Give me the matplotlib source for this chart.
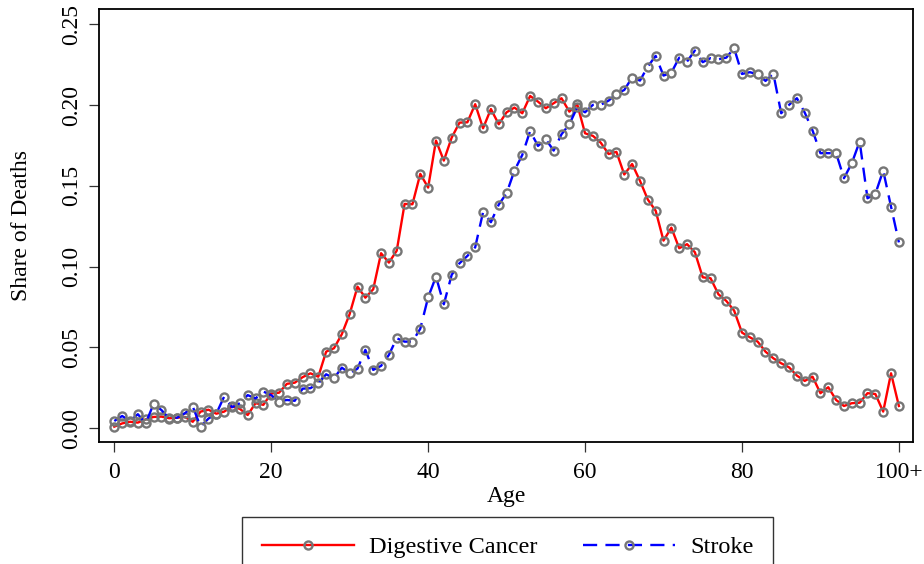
import matplotlib
matplotlib.use("Agg")
import matplotlib.pyplot as plt
import numpy as np

ages = list(range(0, 101))
digestive_cancer = [
    0.0010, 0.0030, 0.0040, 0.0035, 0.0055, 0.0070, 0.0072, 0.0062, 0.0065, 0.0070,
    0.0040, 0.0103, 0.0115, 0.0090, 0.0103, 0.0135, 0.0120, 0.0082, 0.0155, 0.0145,
    0.0215, 0.0220, 0.0275, 0.0282, 0.0316, 0.0340, 0.0319, 0.0474, 0.0495, 0.0582,
    0.0707, 0.0876, 0.0808, 0.0860, 0.1083, 0.1025, 0.1099, 0.1388, 0.1386, 0.1574,
    0.1489, 0.1780, 0.1656, 0.1798, 0.1891, 0.1893, 0.2005, 0.1856, 0.1975, 0.1881,
    0.1955, 0.1984, 0.1949, 0.2056, 0.2021, 0.1980, 0.2011, 0.2042, 0.1959, 0.2005,
    0.1825, 0.1809, 0.1767, 0.1697, 0.1710, 0.1570, 0.1635, 0.1531, 0.1415, 0.1346,
    0.1161, 0.1241, 0.1114, 0.1139, 0.1089, 0.0934, 0.0928, 0.0829, 0.0788, 0.0728,
    0.0592, 0.0563, 0.0536, 0.0474, 0.0433, 0.0402, 0.0377, 0.0326, 0.0293, 0.0319,
    0.0217, 0.0254, 0.0175, 0.0138, 0.0155, 0.0158, 0.0217, 0.0212, 0.0103, 0.0340,
    0.0138,
]
stroke = [
    0.0045, 0.0076, 0.0045, 0.0087, 0.0030, 0.0150, 0.0113, 0.0060, 0.0065, 0.0093,
    0.0134, 0.0010, 0.0060, 0.0090, 0.0196, 0.0130, 0.0155, 0.0205, 0.0185, 0.0227,
    0.0205, 0.0165, 0.0175, 0.0170, 0.0245, 0.0248, 0.0278, 0.0334, 0.0309, 0.0375,
    0.0340, 0.0369, 0.0485, 0.0361, 0.0386, 0.0454, 0.0557, 0.0536, 0.0536, 0.0616,
    0.0810, 0.0938, 0.0767, 0.0949, 0.1021, 0.1066, 0.1120, 0.1337, 0.1275, 0.1384,
    0.1454, 0.1594, 0.1691, 0.1839, 0.1747, 0.1788, 0.1718, 0.1819, 0.1881, 0.1985,
    0.1955, 0.2001, 0.2001, 0.2027, 0.2069, 0.2093, 0.2170, 0.2151, 0.2238, 0.2304,
    0.2182, 0.2200, 0.2293, 0.2269, 0.2337, 0.2265, 0.2290, 0.2283, 0.2293, 0.2351,
    0.2192, 0.2203, 0.2191, 0.2149, 0.2194, 0.1949, 0.2001, 0.2042, 0.1953, 0.1842,
    0.1702, 0.1702, 0.1702, 0.1547, 0.1640, 0.1774, 0.1423, 0.1450, 0.1594, 0.1371,
    0.1150,
]
x_ticks = [0, 20, 40, 60, 80, 100]
x_tick_labels = ["0", "20", "40", "60", "80", "100+"]
y_ticks = [0.00, 0.05, 0.10, 0.15, 0.20, 0.25]

plt.rcParams['font.family'] = ['Liberation Serif', 'DejaVu Serif']
plt.rcParams['font.size'] = 17

fig = plt.figure(figsize=(9.24, 5.64), dpi=100)
ax = fig.add_axes([99/924, 1-442/564, (913-99)/924, (442-9)/564])

mk = dict(marker='o', markersize=5.8, markerfacecolor='none',
          markeredgecolor='#767676', markeredgewidth=1.7)
ax.plot(ages, digestive_cancer, color='#ff0000', lw=1.7, label='Digestive Cancer', **mk)
ax.plot(ages, stroke, color='#0000ff', lw=1.7, dashes=(6, 3.5), label='Stroke', **mk)

ax.set_xlim(-1.95, 101.8)
ax.set_ylim(-0.0085, 0.2594)
ax.set_xticks(x_ticks)
ax.set_xticklabels(x_tick_labels)
ax.set_yticks(y_ticks)
ax.set_yticklabels([f"{v:.2f}" for v in y_ticks], rotation=90, va='center')
ax.tick_params(direction='out', length=7.5, width=0.9, labelsize=17, color='#333333')
ax.tick_params(axis='y', pad=5)
ax.tick_params(axis='x', pad=7)
for s in ax.spines.values():
    s.set_linewidth(1.3)
    s.set_color('black')

ax.set_xlabel('Age', fontsize=17, labelpad=2)
ax.set_ylabel('Share of Deaths', fontsize=17)
ax.yaxis.set_label_coords(-0.082, 0.5)

leg = fig.legend(loc='upper center', bbox_to_anchor=(507.5/924, 1-517/564), ncol=2,
                 frameon=True, fancybox=False, edgecolor='black', fontsize=17.5,
                 handlelength=3.8, columnspacing=1.9, borderpad=0.8,
                 handletextpad=0.6, borderaxespad=0)
leg.get_frame().set_linewidth(1.0)

fig.savefig('out.png', dpi=100)
